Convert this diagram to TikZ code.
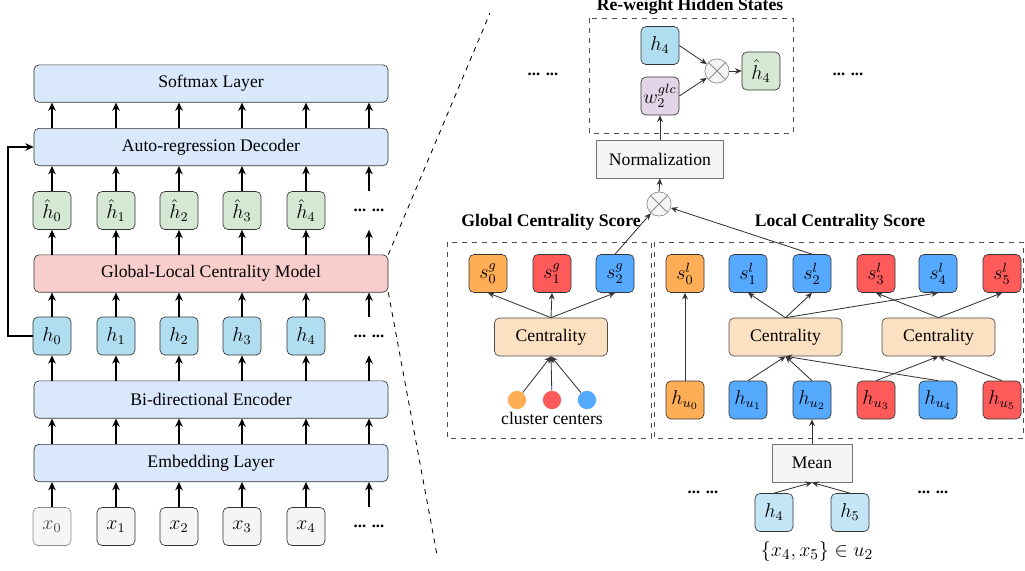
\documentclass[tikz,border=0pt]{standalone}
\usepackage{fontspec}
\setmainfont{Liberation Serif}
\usetikzlibrary{arrows.meta}

\definecolor{layerblue}{HTML}{DAE8FC}
\definecolor{glcred}{HTML}{F8CECC}
\definecolor{hatgreen}{HTML}{D5E8D4}
\definecolor{hidblue}{HTML}{B1DDF0}
\definecolor{hidlight}{HTML}{C4E5F5}
\definecolor{inpgray}{HTML}{F5F5F5}
\definecolor{wpurple}{HTML}{E1D5E7}
\definecolor{corange}{HTML}{FFAE55}
\definecolor{cred}{HTML}{FF5A5A}
\definecolor{cblue}{HTML}{55AAFF}
\definecolor{centfill}{HTML}{FBE0C1}

\begin{document}
\begin{tikzpicture}[x=0.6pt, y=-0.6pt, font=\fontsize{10.6}{12.7}\selectfont,
  layer/.style={draw=black!80, rounded corners=3pt, fill=layerblue, minimum width=212.4pt, minimum height=22.4pt, inner sep=0pt},
  tok/.style={draw=black!80, rounded corners=3pt, minimum width=22.8pt, minimum height=22.8pt, inner sep=0pt, font=\fontsize{12}{14}\selectfont},
  dots/.style={minimum width=22.8pt, minimum height=22.8pt, inner sep=0pt, font=\bfseries},
  cent/.style={draw=black!70, rounded corners=3pt, fill=centfill, minimum width=67.8pt, minimum height=22.8pt, inner sep=0pt},
  plain/.style={draw=black!55, fill=inpgray, minimum height=23pt, inner sep=0pt},
  mul/.style={circle, draw=black!45, fill=inpgray, minimum size=14.5pt, inner sep=0pt},
  dot/.style={circle, minimum size=11pt, inner sep=0pt},
  frame/.style={draw=black!70, dashed, line width=0.6pt},
  title/.style={font=\fontsize{10.6}{12.7}\selectfont\bfseries},
  arr/.style={-{Stealth[length=5pt,width=4.5pt]}, line width=0.8pt},
  sarr/.style={-{Stealth[length=4pt,width=3.5pt]}, draw=black!80, line width=0.5pt}]
\useasboundingbox (0,0) rectangle (1025,570);

% left: encoder-decoder stack
\node[layer] (soft) at (211,83.5) {Softmax Layer};
\node[layer] (dec) at (211,147) {Auto-regression Decoder};
\node[layer, fill=glcred] (glc) at (211,273.5) {Global-Local Centrality Model};
\node[layer] (enc) at (211,399.5) {Bi-directional Encoder};
\node[layer] (emb) at (211,463) {Embedding Layer};

\node[tok, fill=hatgreen] (hh0) at (52,210.5) {$\hat{h}_0$};
\node[tok, fill=hatgreen] (hh1) at (116,210.5) {$\hat{h}_1$};
\node[tok, fill=hatgreen] (hh2) at (179,210.5) {$\hat{h}_2$};
\node[tok, fill=hatgreen] (hh3) at (242,210.5) {$\hat{h}_3$};
\node[tok, fill=hatgreen] (hh4) at (306,210.5) {$\hat{h}_4$};
\node[dots] (hh5) at (369,210.5) {... ...};

\node[tok, fill=hidblue] (h0) at (52,336) {$h_0$};
\node[tok, fill=hidblue] (h1) at (116,336) {$h_1$};
\node[tok, fill=hidblue] (h2) at (179,336) {$h_2$};
\node[tok, fill=hidblue] (h3) at (242,336) {$h_3$};
\node[tok, fill=hidblue] (h4) at (306,336) {$h_4$};
\node[dots] (h5) at (369,336) {... ...};

\node[tok, fill=inpgray, draw=black!45] (x0) at (52,526.5) {\color{black!70}$x_0$};
\node[tok, fill=inpgray] (x1) at (116,526.5) {$x_1$};
\node[tok, fill=inpgray] (x2) at (179,526.5) {$x_2$};
\node[tok, fill=inpgray] (x3) at (242,526.5) {$x_3$};
\node[tok, fill=inpgray] (x4) at (306,526.5) {$x_4$};
\node[dots] (x5) at (369,526.5) {... ...};

\foreach \i in {0,...,5} {
  \draw[arr] (x\i.north) -- (x\i.north |- emb.south);
  \draw[arr] (x\i.north |- emb.north) -- (x\i.north |- enc.south);
  \draw[arr] (h\i.north |- enc.north) -- (h\i.south);
  \draw[arr] (h\i.north) -- (h\i.north |- glc.south);
  \draw[arr] (hh\i.south |- glc.north) -- (hh\i.south);
  \draw[arr] (hh\i.north) -- (hh\i.north |- dec.south);
  \draw[arr] (hh\i.north |- dec.north) -- (hh\i.north |- soft.south);
}
\coordinate (back) at (8,336);
\draw[arr] (h0.west) -- (back) |- (dec.west);

% zoom lines
\coordinate (zoomtop) at (490,13);
\coordinate (zoombot) at (437,555);
\draw[dashed, line width=0.5pt] (glc.north east) -- (zoomtop);
\draw[dashed, line width=0.5pt] (glc.south east) -- (zoombot);

% re-weight hidden states
\node[title] (rwtitle) at (690,6) {Re-weight Hidden States};
\draw[frame] (589,18) rectangle (793,133);
\node[tok, fill=hidblue] (hr) at (660,45.5) {$h_4$};
\node[tok, fill=wpurple] (wr) at (660,96) {$w_2^{glc}$};
\node[mul] (mul1) at (717,71) {};
\draw[black!45, line width=0.5pt] (mul1.45) -- (mul1.225) (mul1.135) -- (mul1.315);
\node[tok, fill=hatgreen] (hhr) at (761,71) {$\hat{h}_4$};
\node[dots] (rdl) at (543,74) {... ...};
\node[dots] (rdr) at (848,74) {... ...};
\draw[sarr] (hr.east) -- (mul1);
\draw[sarr] (wr.east) -- (mul1);
\draw[sarr] (mul1) -- (hhr.west);

\node[plain, minimum width=76.2pt] (norm) at (660,159) {Normalization};
\node[mul] (mul2) at (659,204) {};
\draw[black!45, line width=0.5pt] (mul2.45) -- (mul2.225) (mul2.135) -- (mul2.315);
\draw[sarr] (norm.north) -- (wr.south);
\draw[sarr] (mul2.north) -- (norm.south);

% global centrality score
\node[title] (gtitle) at (551,222) {Global Centrality Score};
\draw[frame] (447,242) rectangle (651,438);
\node[tok, fill=corange] (sg0) at (488,273.5) {$s_0^g$};
\node[tok, fill=cred] (sg1) at (552,273.5) {$s_1^g$};
\node[tok, fill=cblue] (sg2) at (615,273.5) {$s_2^g$};
\node[cent] (cg) at (551,337) {Centrality};
\node[dot, fill=corange] (cc0) at (517,400) {};
\node[dot, fill=cred] (cc1) at (552,400) {};
\node[dot, fill=cblue] (cc2) at (587,400) {};
\node (cclabel) at (552,418) {cluster centers};
\draw[sarr] (cg.north) -- (sg0.south);
\draw[sarr] (cg.north) -- (sg1.south);
\draw[sarr] (cg.north) -- (sg2.south);
\draw[sarr] (cc0) -- (cg.south);
\draw[sarr] (cc1) -- (cg.south);
\draw[sarr] (cc2) -- (cg.south);

% local centrality score
\node[title] (ltitle) at (840,222) {Local Centrality Score};
\draw[frame] (654,242) rectangle (1023,438);
\node[tok, fill=corange] (sl0) at (685,273.5) {$s_0^l$};
\node[tok, fill=cblue] (sl1) at (748,273.5) {$s_1^l$};
\node[tok, fill=cblue] (sl2) at (812,273.5) {$s_2^l$};
\node[tok, fill=cred] (sl3) at (876,273.5) {$s_3^l$};
\node[tok, fill=cblue] (sl4) at (938,273.5) {$s_4^l$};
\node[tok, fill=cred] (sl5) at (1002,273.5) {$s_5^l$};
\node[cent] (cl1) at (785.5,337) {Centrality};
\node[cent] (cl2) at (938.5,337) {Centrality};
\node[tok, fill=corange] (hu0) at (685,400) {$h_{u_0}$};
\node[tok, fill=cblue] (hu1) at (748,400) {$h_{u_1}$};
\node[tok, fill=cblue] (hu2) at (812,400) {$h_{u_2}$};
\node[tok, fill=cred] (hu3) at (876,400) {$h_{u_3}$};
\node[tok, fill=cblue] (hu4) at (938,400) {$h_{u_4}$};
\node[tok, fill=cred] (hu5) at (1002,400) {$h_{u_5}$};
\draw[sarr] (hu0.north) -- (sl0.south);
\draw[sarr] (cl1.north) -- (sl1.south);
\draw[sarr] (cl1.north) -- (sl2.south);
\draw[sarr] (cl1.north) -- (sl4.south);
\draw[sarr] (cl2.north) -- (sl3.south);
\draw[sarr] (cl2.north) -- (sl5.south);
\draw[sarr] (hu1.north) -- (cl1.south);
\draw[sarr] (hu2.north) -- (cl1.south);
\draw[sarr] (hu4.north) -- (cl1.south);
\draw[sarr] (hu3.north) -- (cl2.south);
\draw[sarr] (hu5.north) -- (cl2.south);
\draw[sarr] (sg2.north) -- (mul2);
\draw[sarr] (sl2.north) -- (mul2);

% mean of utterance tokens
\node[plain, minimum width=48pt] (mean) at (812,463) {Mean};
\node[tok, fill=hidlight] (hl4) at (774,512.5) {$h_4$};
\node[tok, fill=hidlight] (hl5) at (850,512.5) {$h_5$};
\node[dots] (mdl) at (703,492) {... ...};
\node[dots] (mdr) at (933,492) {... ...};
\node (uset) at (817,551) {\fontsize{13.2}{15}\selectfont $\{x_4,x_5\}\in u_2$};
\draw[sarr] (mean.north) -- (hu2.south);
\draw[sarr] (hl4.north) -- (mean.south);
\draw[sarr] (hl5.north) -- (mean.south);
\end{tikzpicture}
\end{document}
